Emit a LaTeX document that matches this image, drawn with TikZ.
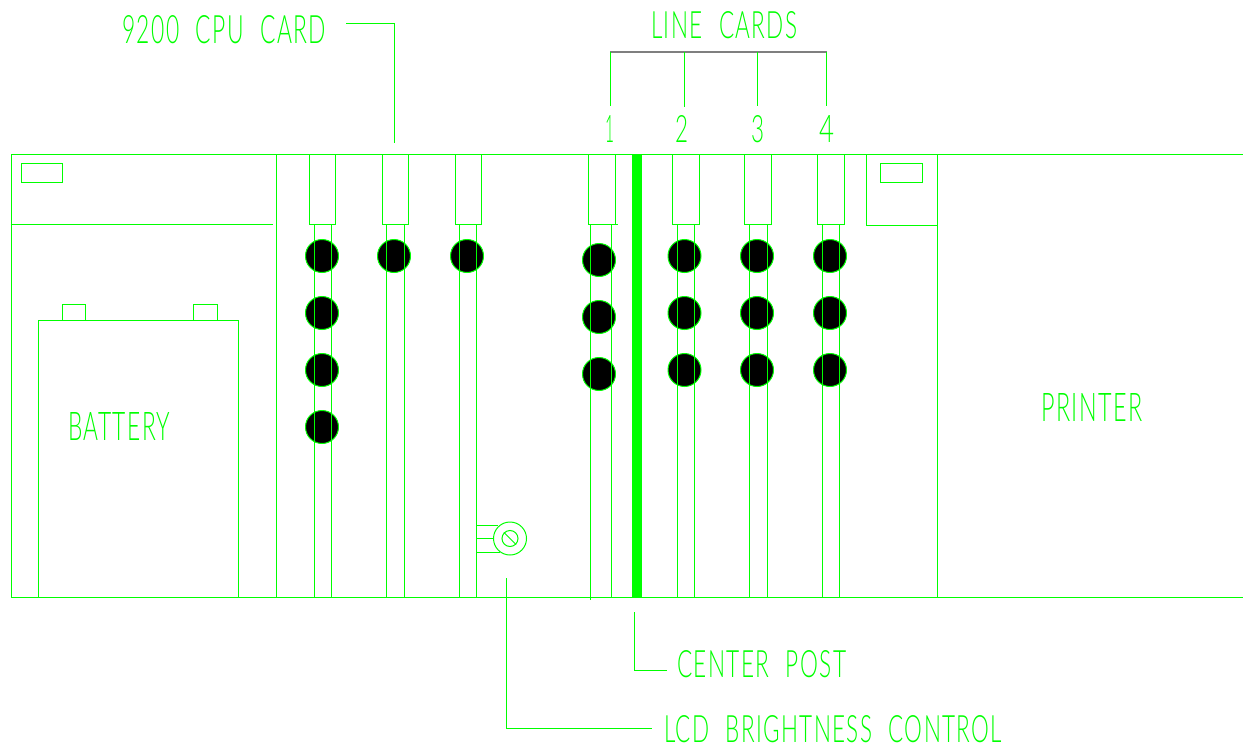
\documentclass[tikz,border=0pt]{standalone}
\usepackage{fontspec}
\setsansfont{Lato Light}[LetterSpace=6,WordSpace=2.2]
\definecolor{cad}{HTML}{00FF00}
\definecolor{cadgrey}{HTML}{7F7F7F}
\newcommand{\cadtext}[3]{\resizebox{#1pt}{#2pt}{\sffamily #3}}
\tikzset{
  cadline/.style={draw=cad,line width=1pt},
  hub/.style={circle,draw=cad,fill=black,line width=1pt,minimum size=33pt,inner sep=0pt},
  label/.style={text=cad,inner sep=0pt,anchor=north west},
}
\begin{document}
\begin{tikzpicture}[x=1pt,y=-1pt]
\useasboundingbox (0,0) rectangle (1243,744);
\fill[white] (0,0) rectangle (1243,744);
% frame
\draw[cadline] (1243,154.5) -- (11.5,154.5) -- (11.5,597.5) -- (1243,597.5);
\draw[cadline] (10.5,224.5) -- (273,224.5);
\draw[cadline] (276,154.5) -- (276,597.5);
\draw[cadline] (21,163.5) rectangle (62.5,182.5);
% battery
\draw[cadline] (38.5,597.5) -- (38.5,320.5) -- (238.5,320.5) -- (238.5,597.5);
\draw[cadline] (62,320.5) -- (62,304.5) -- (85.5,304.5) -- (85.5,320.5);
\draw[cadline] (193.5,320.5) -- (193.5,304.5) -- (217.5,304.5) -- (217.5,320.5);
% cards
\foreach \a/\b/\c/\d in {309/335.5/314/331.5,382/408.5/386/404.5,455/481/459/476.5,672.5/699/677/694.5,744.5/771.5/749/767,817.5/844/822/839.5}{
  \draw[cadline] (\a,154.5) -- (\a,224.5) -- (\b,224.5) -- (\b,154.5);
  \draw[cadline] (\c,224.5) -- (\c,597.5);
  \draw[cadline] (\d,224.5) -- (\d,597.5);
}
\draw[cadline] (588.5,154.5) -- (588.5,224.5) -- (617.5,224.5);
\draw[cadline] (615.5,154.5) -- (615.5,224.5);
\draw[cadline] (590.5,224.5) -- (590.5,600);
\draw[cadline] (611,224.5) -- (611,597.5);
% center post
\fill[cad] (632,154.5) rectangle (641.5,596.5);
% printer bay
\draw[cadline] (866.5,154.5) -- (866.5,225) -- (937.5,225);
\draw[cadline] (937.5,154.5) -- (937.5,597.5);
\draw[cadline] (880,163.5) rectangle (922,182);
% hubs
\foreach \n/\x/\y in {a1/322/256,a2/322/313,a3/322/370,a4/322/427,b1/394/256,c1/467/256,
  d1/599/260,d2/599/317,d3/599/374,
  e1/684.5/256,e2/684.5/313,e3/684.5/370,
  f1/757/256,f2/757/313,f3/757/370,
  g1/830/256,g2/830/313,g3/830/370}
  \node[hub] (\n) at (\x,\y) {};
\foreach \c/\d/\y in {314/331.5/256,314/331.5/313,314/331.5/370,314/331.5/427,386/404.5/256,459/476.5/256,
  590.5/611/260,590.5/611/317,590.5/611/374,
  677/694.5/256,677/694.5/313,677/694.5/370,
  749/767/256,749/767/313,749/767/370,
  822/839.5/256,822/839.5/313,822/839.5/370}{
  \draw[cadline] (\c,\y-15) -- (\c,\y+15);
  \draw[cadline] (\d,\y-15) -- (\d,\y+15);
}
% knob
\draw[cadline] (476.5,525.5) -- (498,525.5);
\draw[cadline] (476.5,538.5) -- (493.5,538.5);
\draw[cadline] (476.5,552) -- (500,552);
\node[circle,draw=cad,line width=1pt,minimum size=33pt,inner sep=0pt] (knob) at (510,538.5) {};
\node[circle,draw=cad,line width=1pt,minimum size=16pt,inner sep=0pt] (knobin) at (510,538.5) {};
\draw[cadline] (knobin.north west) -- (knobin.south east);
% labels
\node[label] (cpu) at (122,15) {\cadtext{204}{28}{9200 CPU CARD}};
\node[label] (lc) at (651,11) {\cadtext{146}{27}{LINE CARDS}};
\node[label] (n1) at (605,115) {\cadtext{9}{27}{1}};
\node[label] (n2) at (675,115) {\cadtext{13}{27}{2}};
\node[label] (n3) at (751,115) {\cadtext{13}{27}{3}};
\node[label] (n4) at (819,115) {\cadtext{15}{27}{4}};
\node[label] (bat) at (68,412) {\cadtext{102}{28}{BATTERY}};
\node[label] (prn) at (1041,393) {\cadtext{101}{28}{PRINTER}};
\node[label] (post) at (677,650) {\cadtext{169}{27}{CENTER POST}};
\node[label] (lcd) at (664,715) {\cadtext{338}{27}{LCD BRIGHTNESS CONTROL}};
% leaders
\coordinate (cpuA) at (346,23); \coordinate (cpuB) at (394,23); \coordinate (cpuC) at (394,143);
\draw[cadline] (cpuA) -- (cpuB) -- (cpuC);
\coordinate (l1) at (610,52); \coordinate (l2) at (684.5,52); \coordinate (l3) at (757.5,52); \coordinate (l4) at (826.5,52);
\draw[draw=cadgrey,line width=1.2pt] (l1) -- (l4);
\draw[cadline] (l1) -- (610,106);
\draw[cadline] (l2) -- (684.5,106.5);
\draw[cadline] (l3) -- (757.5,106);
\draw[cadline] (l4) -- (826.5,106);
\coordinate (pA) at (634,612); \coordinate (pB) at (634,670); \coordinate (pC) at (666.5,670);
\draw[cadline] (pA) -- (pB) -- (pC);
\coordinate (kA) at (506,578); \coordinate (kB) at (506,728); \coordinate (kC) at (652,728);
\draw[cadline] (kA) -- (kB) -- (kC);
\end{tikzpicture}
\end{document}
